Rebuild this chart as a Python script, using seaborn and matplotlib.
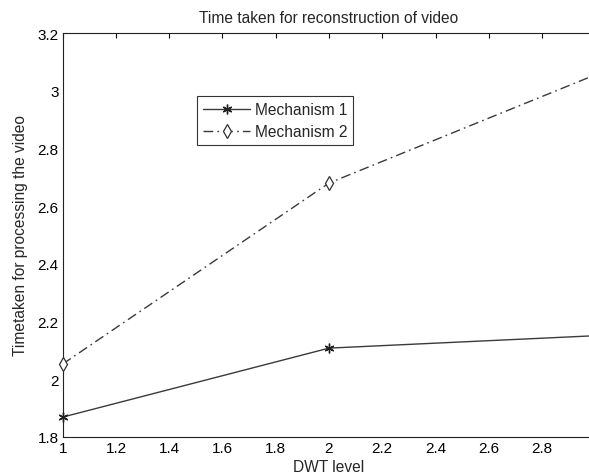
import matplotlib
matplotlib.use("Agg")
import matplotlib.pyplot as plt
import seaborn as sns
import pandas as pd

dwt_level = [1, 2, 3]
mechanism_1 = [1.869, 2.108, 2.151]
mechanism_2 = [2.053, 2.680, 3.055]
series_names = ["Mechanism 1", "Mechanism 2"]
x_ticks = [1, 1.2, 1.4, 1.6, 1.8, 2, 2.2, 2.4, 2.6, 2.8, 3]
x_tick_labels = ["1", "1.2", "1.4", "1.6", "1.8", "2", "2.2", "2.4", "2.6", "2.8", ""]
y_ticks = [1.8, 2, 2.2, 2.4, 2.6, 2.8, 3, 3.2]

sns.set_style("white")
plt.rcParams['font.family'] = ['Liberation Sans', 'DejaVu Sans']
plt.rcParams['font.size'] = 10

fig = plt.figure(figsize=(5.89, 4.77), dpi=100)
ax = fig.add_axes([62.7 / 589, 1 - 438 / 477, (595.3 - 62.7) / 589, (438 - 34) / 477])

df1 = pd.DataFrame({"x": dwt_level, "y": mechanism_1})
df2 = pd.DataFrame({"x": dwt_level, "y": mechanism_2})

dashdot = (0, (7, 3, 1.2, 3))

sns.lineplot(data=df1, x="x", y="y", ax=ax, color="#3a3a3a", lw=1.0,
             marker=(6, 2, 0), markersize=7, markeredgecolor="#202020",
             markeredgewidth=1.0, label=series_names[0])
sns.lineplot(data=df2, x="x", y="y", ax=ax, color="#3a3a3a", lw=1.0,
             marker="d", markersize=7.5, markerfacecolor="white",
             markeredgecolor="#303030", markeredgewidth=0.9,
             dashes=False, label=series_names[1])
ax.lines[1].set_linestyle(dashdot)
for ln in ax.lines:
    ln.set_clip_on(False)
    ln.set_zorder(3)

ax.set_xlim(1, 3)
ax.set_ylim(1.8, 3.2)
ax.set_xticks(x_ticks)
ax.set_yticks(y_ticks)
ax.set_xticklabels(x_tick_labels)
ax.set_yticklabels([f"{t:g}" for t in y_ticks])
ax.tick_params(direction="in", length=3.6, width=0.8, top=True, right=True,
               labelsize=11, colors="black", pad=3)
for s in ax.spines.values():
    s.set_color("#222222")
    s.set_linewidth(0.8)

ax.set_title("Time taken for reconstruction of video", fontsize=11.2, pad=8)
ax.set_xlabel("DWT level", fontsize=11.2, labelpad=3)
ax.set_ylabel("Timetaken for processing the video", fontsize=11.2, labelpad=7)

leg = ax.legend(loc="upper left", bbox_to_anchor=(197 / 589, 1 - 97 / 477),
                bbox_transform=fig.transFigure, frameon=True, fancybox=False,
                edgecolor="black", fontsize=11.2, handlelength=3.0,
                borderpad=0.4, labelspacing=0.45, handletextpad=0.3,
                borderaxespad=0)
leg.get_frame().set_linewidth(0.8)
leg.get_lines()[1].set_linestyle(dashdot)

fig.savefig("out.png", dpi=100)
